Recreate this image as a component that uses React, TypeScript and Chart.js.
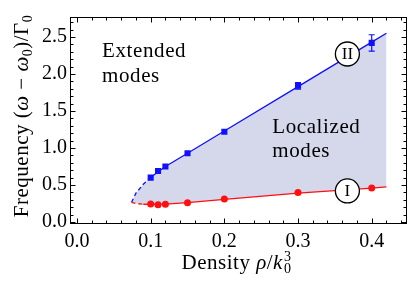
import React, { useEffect, useRef } from "react";
import { Chart, registerables } from "chart.js";
Chart.register(...registerables);

// ---- data ----
const densityPoints = [0.1, 0.11, 0.12, 0.15, 0.2, 0.3, 0.4];
const modeIIValues = [0.6, 0.69, 0.75, 0.93, 1.22, 1.84, 2.42];
const modeIIErrors = [0.01, 0.01, 0.01, 0.01, 0.015, 0.045, 0.11];
const modeIValues = [0.243, 0.234, 0.24, 0.26, 0.31, 0.4, 0.46];

const curveDensity = [0.074, 0.08, 0.09, 0.1, 0.11, 0.12, 0.15, 0.2, 0.3, 0.4, 0.42];
const curveII = [0.266, 0.39, 0.51, 0.6, 0.68, 0.75, 0.93, 1.23, 1.83, 2.43, 2.55];
const curveI = [0.266, 0.25, 0.24, 0.238, 0.238, 0.242, 0.262, 0.305, 0.39, 0.458, 0.476];

const xTickValues = [0.0, 0.1, 0.2, 0.3, 0.4];
const yTickValues = [0.0, 0.5, 1.0, 1.5, 2.0, 2.5];

const X_MIN = -0.0095;
const X_MAX = 0.4475;
const Y_MIN = -0.02;
const Y_MAX = 2.77;

const FONT = "'Liberation Serif', 'Times New Roman', serif";
const BLUE = "#1010ff";
const RED = "#ff1010";
const FILL = "rgb(213,215,235)";

type Run = { t: string; it?: boolean; size?: number; dy?: number; stack?: [string, string] };

function runFont(r: Run, base: number) {
  return `${r.it ? "italic " : ""}${r.size ?? base}px ${FONT}`;
}

function runWidth(ctx: CanvasRenderingContext2D, r: Run, base: number) {
  ctx.font = runFont(r, base);
  if (r.stack) return Math.max(ctx.measureText(r.stack[0]).width, ctx.measureText(r.stack[1]).width);
  return ctx.measureText(r.t).width;
}

function drawRuns(ctx: CanvasRenderingContext2D, runs: Run[], cx: number, cy: number, base: number) {
  let total = 0;
  for (const r of runs) total += runWidth(ctx, r, base);
  let x = cx - total / 2;
  ctx.textBaseline = "alphabetic";
  ctx.textAlign = "left";
  ctx.fillStyle = "#000";
  for (const r of runs) {
    const w = runWidth(ctx, r, base);
    ctx.font = runFont(r, base);
    if (r.stack) {
      ctx.fillText(r.stack[0], x + 1, cy - 8);
      ctx.fillText(r.stack[1], x + 1, cy + 4);
      x += 1;
    } else {
      ctx.fillText(r.t, x, cy + (r.dy ?? 0));
    }
    x += w;
  }
}

const decorPlugin = {
  id: "decor",
  afterDatasetsDraw(chart: any) {
    const ctx: CanvasRenderingContext2D = chart.ctx;
    const xs = chart.scales.x;
    const ys = chart.scales.y;
    // error bars
    ctx.save();
    ctx.strokeStyle = BLUE;
    ctx.lineWidth = 1.2;
    densityPoints.forEach((d, i) => {
      const px = xs.getPixelForValue(d);
      const y1 = ys.getPixelForValue(modeIIValues[i] + modeIIErrors[i]);
      const y2 = ys.getPixelForValue(modeIIValues[i] - modeIIErrors[i]);
      if (y2 - y1 < 6) return;
      ctx.beginPath();
      ctx.moveTo(px, y1);
      ctx.lineTo(px, y2);
      ctx.moveTo(px - 3, y1);
      ctx.lineTo(px + 3, y1);
      ctx.moveTo(px - 3, y2);
      ctx.lineTo(px + 3, y2);
      ctx.stroke();
    });
    ctx.restore();

    // region labels
    ctx.save();
    ctx.fillStyle = "#000";
    ctx.font = `21px ${FONT}`;
    (ctx as any).letterSpacing = "0.6px";
    ctx.textAlign = "left";
    ctx.textBaseline = "middle";
    const lx = xs.getPixelForValue(0.034);
    ctx.fillText("Extended", lx, ys.getPixelForValue(2.3));
    ctx.fillText("modes", lx, ys.getPixelForValue(1.96));
    const rx = xs.getPixelForValue(0.265);
    ctx.fillText("Localized", rx, ys.getPixelForValue(1.28));
    ctx.fillText("modes", rx, ys.getPixelForValue(0.95));
    (ctx as any).letterSpacing = "0px";

    // circled labels
    const circ = (label: string, vx: number, vy: number) => {
      const cx = xs.getPixelForValue(vx);
      const cy = ys.getPixelForValue(vy);
      ctx.beginPath();
      ctx.arc(cx, cy, 12, 0, Math.PI * 2);
      ctx.fillStyle = "#fff";
      ctx.fill();
      ctx.lineWidth = 1.3;
      ctx.strokeStyle = "#000";
      ctx.stroke();
      ctx.fillStyle = "#000";
      ctx.font = `17px ${FONT}`;
      ctx.textAlign = "center";
      ctx.textBaseline = "middle";
      ctx.fillText(label, cx, cy + 1);
    };
    circ("II", 0.367, 2.27);
    circ("I", 0.367, 0.42);
    ctx.restore();
  },
  afterDraw(chart: any) {
    const ctx: CanvasRenderingContext2D = chart.ctx;
    const a = chart.chartArea;
    const xs = chart.scales.x;
    const ys = chart.scales.y;
    ctx.save();
    ctx.strokeStyle = "#000";
    ctx.lineWidth = 1;
    const L = Math.round(a.left) + 0.5;
    const R = Math.round(a.right) - 0.5;
    const T = Math.round(a.top) + 0.5;
    const B = Math.round(a.bottom) - 0.5;
    ctx.strokeRect(L, T, R - L, B - T);
    ctx.beginPath();
    for (let k = 0; k <= 22; k++) {
      const v = k * 0.02;
      const px = Math.round(xs.getPixelForValue(v)) + 0.5;
      const len = k % 5 === 0 ? 5 : 3;
      ctx.moveTo(px, B);
      ctx.lineTo(px, B - len);
      ctx.moveTo(px, T);
      ctx.lineTo(px, T + len);
    }
    for (let k = 0; k <= 27; k++) {
      const v = k * 0.1;
      const py = Math.round(ys.getPixelForValue(v)) + 0.5;
      const len = k % 5 === 0 ? 5 : 3;
      ctx.moveTo(L, py);
      ctx.lineTo(L + len, py);
      ctx.moveTo(R, py);
      ctx.lineTo(R - len, py);
    }
    ctx.stroke();
    ctx.restore();

    // axis titles
    ctx.save();
    (ctx as any).letterSpacing = "0.5px";
    drawRuns(
      ctx,
      [
        { t: "Density " },
        { t: "ρ", it: true },
        { t: "/" },
        { t: "k", it: true },
        { t: "", size: 14, stack: ["3", "0"] },
      ],
      236,
      269,
      21
    );
    ctx.translate(28, 116);
    ctx.rotate(-Math.PI / 2);
    drawRuns(
      ctx,
      [
        { t: "Frequency (" },
        { t: "ω", it: true },
        { t: " − " },
        { t: "ω", it: true },
        { t: "0", size: 14, dy: 4 },
        { t: ")/Γ" },
        { t: "0", size: 14, dy: 4 },
      ],
      0,
      0,
      21
    );
    ctx.restore();
  },
};

export default function App() {
  const ref = useRef<HTMLCanvasElement>(null);
  useEffect(() => {
    const canvas = ref.current!;
    const dashII = (c: any) => (c.p1.parsed.x <= 0.1 ? [4, 3] : undefined);
    const dashI = (c: any) => (c.p1.parsed.x <= 0.09 ? [4, 3] : undefined);
    const chart = new Chart(canvas, {
      type: "line",
      data: {
        datasets: [
          {
            // shaded band (upper edge)
            data: curveDensity.map((x, i) => ({ x, y: curveII[i] })),
            borderWidth: 0,
            borderColor: "rgba(0,0,0,0)",
            pointRadius: 0,
            fill: { target: "+1" },
            backgroundColor: FILL,
            order: 6,
          },
          {
            // shaded band (lower edge)
            data: curveDensity.map((x, i) => ({ x, y: curveI[i] })),
            borderWidth: 0,
            borderColor: "rgba(0,0,0,0)",
            pointRadius: 0,
            fill: false,
            order: 5,
          },
          {
            data: curveDensity.map((x, i) => ({ x, y: curveII[i] })),
            borderColor: BLUE,
            borderWidth: 1.3,
            pointRadius: 0,
            fill: false,
            segment: { borderDash: dashII },
            order: 4,
          },
          {
            data: curveDensity.map((x, i) => ({ x, y: curveI[i] })),
            borderColor: RED,
            borderWidth: 1.3,
            pointRadius: 0,
            fill: false,
            segment: { borderDash: dashI },
            order: 3,
          },
          {
            data: densityPoints.map((x, i) => ({ x, y: modeIIValues[i] })),
            showLine: false,
            pointStyle: "rect",
            pointRadius: 4.3,
            pointBackgroundColor: BLUE,
            pointBorderColor: BLUE,
            pointBorderWidth: 0,
            order: 2,
          },
          {
            data: densityPoints.map((x, i) => ({ x, y: modeIValues[i] })),
            showLine: false,
            pointStyle: "circle",
            pointRadius: 3.5,
            pointBackgroundColor: RED,
            pointBorderColor: RED,
            pointBorderWidth: 0,
            order: 1,
          },
        ],
      },
      options: {
        animation: false,
        responsive: false,
        devicePixelRatio: 1,
        layout: { padding: { top: 17, right: 4, left: 0, bottom: 0 } },
        plugins: { legend: { display: false }, tooltip: { enabled: false } },
        scales: {
          x: {
            type: "linear",
            min: X_MIN,
            max: X_MAX,
            grid: { display: false, drawTicks: false },
            border: { display: false },
            afterBuildTicks: (s: any) => {
              s.ticks = xTickValues.map((v) => ({ value: v }));
            },
            afterFit: (s: any) => {
              s.height = 67.5;
            },
            ticks: {
              font: { family: FONT, size: 20 },
              color: "#000",
              padding: 6,
              maxRotation: 0,
              autoSkip: false,
              callback: (v: any) => Number(v).toFixed(1),
            },
          },
          y: {
            type: "linear",
            min: Y_MIN,
            max: Y_MAX,
            grid: { display: false, drawTicks: false },
            border: { display: false },
            afterBuildTicks: (s: any) => {
              s.ticks = yTickValues.map((v) => ({ value: v }));
            },
            afterFit: (s: any) => {
              s.width = 70;
            },
            ticks: {
              font: { family: FONT, size: 20 },
              color: "#000",
              padding: 3,
              autoSkip: false,
              callback: (v: any) => Number(v).toFixed(1),
            },
          },
        },
      },
      plugins: [decorPlugin],
    } as any);
    return () => chart.destroy();
  }, []);
  return (
    <div style={{ position: "absolute", left: 0, top: 0, width: 411, height: 291, background: "#fff" }}>
      <canvas ref={ref} width={411} height={291} style={{ display: "block" }} />
    </div>
  );
}
